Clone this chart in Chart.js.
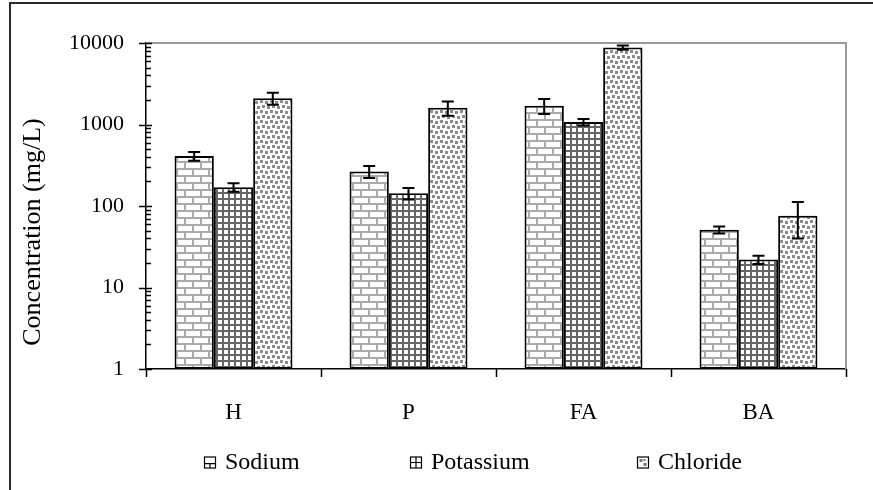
<!DOCTYPE html>
<html>
<head>
<meta charset="utf-8">
<script src="https://cdn.jsdelivr.net/npm/chart.js@4/dist/chart.umd.min.js"></script>
<style>
  html, body { margin: 0; padding: 0; background: #fff; overflow: hidden; }
  #wrap { position: relative; width: 873px; height: 490px; }
  #frame { position: absolute; left: 9px; top: 2px; width: 900px; height: 520px;
           border-left: 2px solid #2a2a2a; border-top: 2px solid #2a2a2a; pointer-events: none; }
  canvas { position: absolute; left: 0; top: 0; }
</style>
</head>
<body>
<div id="wrap">
  <canvas id="c" width="873" height="490"></canvas>
  <div id="frame"></div>
</div>
<script>
// Mean concentrations (mg/L) with standard deviations
const categories = ['H', 'P', 'FA', 'BA'];
const seriesNames = ['Sodium', 'Potassium', 'Chloride'];
const sodium = [410, 265, 1700, 51];
const potassium = [170, 143, 1070, 22];
const chloride = [2100, 1600, 8800, 76];
const sodiumErr = [50, 45, 350, 5];
const potassiumErr = [20, 23, 100, 2.6];
const chlorideErr = [350, 320, 550, 36];
const yTickValues = [1, 10, 100, 1000, 10000];
const yTitle = 'Concentration (mg/L)';

const FONT = '"Liberation Serif", "Times New Roman", serif';
const canvas = document.getElementById('c');
const ctxMain = canvas.getContext('2d');

// ---- fill patterns ----
function makeTile(w, h, draw) {
  const c = document.createElement('canvas');
  c.width = w; c.height = h;
  const g = c.getContext('2d');
  g.fillStyle = '#fff';
  g.fillRect(0, 0, w, h);
  draw(g);
  return c;
}
const brickPattern = ctxMain.createPattern(makeTile(16, 14, g => {
  g.fillStyle = '#aaaaaa';
  g.fillRect(0, 0, 16, 2);
  g.fillRect(0, 7, 16, 2);
  g.fillRect(0, 0, 2, 7);
  g.fillRect(8, 7, 2, 7);
}), 'repeat');
const gridPattern = ctxMain.createPattern(makeTile(6, 6, g => {
  g.fillStyle = '#666666';
  g.fillRect(0, 0, 6, 2);
  g.fillRect(0, 0, 2, 6);
}), 'repeat');
const dotPattern = ctxMain.createPattern(makeTile(10, 10, g => {
  g.fillStyle = '#8a8a8a';
  [[0, 0], [5, 1], [2, 5], [7, 6]].forEach(([x, y]) => g.fillRect(x, y, 3, 3));
}), 'repeat');

// ---- small legend glyphs ----
const legendGlyphs = [
  (g, x, y, s) => { // brick
    g.strokeStyle = '#000'; g.lineWidth = 1.2;
    g.strokeRect(x, y, s, s);
    g.beginPath(); g.moveTo(x, y + s * 0.6); g.lineTo(x + s, y + s * 0.6);
    g.moveTo(x + s * 0.5, y + s * 0.6); g.lineTo(x + s * 0.5, y + s); g.stroke();
  },
  (g, x, y, s) => { // grid
    g.strokeStyle = '#000'; g.lineWidth = 1.2;
    g.strokeRect(x, y, s, s);
    g.beginPath(); g.moveTo(x, y + s / 2); g.lineTo(x + s, y + s / 2);
    g.moveTo(x + s / 2, y); g.lineTo(x + s / 2, y + s); g.stroke();
  },
  (g, x, y, s) => { // dots
    g.strokeStyle = '#000'; g.lineWidth = 1.2;
    g.strokeRect(x, y, s, s);
    g.fillStyle = '#777';
    g.fillRect(x + 2, y + 2, 3, 3);
    g.fillRect(x + 6, y + 6, 3, 3);
    g.fillRect(x + 6, y + 2, 2, 2);
  }
];

// ---- plugins ----
const plotFrame = {
  id: 'plotFrame',
  beforeDatasetsDraw(chart) {
    const { ctx, chartArea: a } = chart;
    ctx.save();
    ctx.strokeStyle = '#9a9a9a';
    ctx.lineWidth = 2;
    ctx.beginPath();
    ctx.moveTo(a.left, a.top);
    ctx.lineTo(a.right, a.top);
    ctx.lineTo(a.right, a.bottom);
    ctx.stroke();
    ctx.restore();
  }
};

const errorBars = {
  id: 'errorBars',
  afterDatasetsDraw(chart) {
    const { ctx } = chart;
    const ys = chart.scales.y;
    ctx.save();
    ctx.strokeStyle = '#000';
    ctx.lineWidth = 2;
    chart.data.datasets.forEach((ds, i) => {
      const meta = chart.getDatasetMeta(i);
      meta.data.forEach((bar, j) => {
        const v = ds.data[j], e = ds.errors[j];
        const yT = ys.getPixelForValue(v + e);
        const yB = ys.getPixelForValue(v - e);
        const x = bar.x, cap = 6;
        ctx.beginPath();
        ctx.moveTo(x, yT); ctx.lineTo(x, yB);
        ctx.moveTo(x - cap, yT); ctx.lineTo(x + cap, yT);
        ctx.moveTo(x - cap, yB); ctx.lineTo(x + cap, yB);
        ctx.stroke();
      });
    });
    ctx.restore();
  }
};

const tickMarks = {
  id: 'tickMarks',
  afterDraw(chart) {
    const { ctx, chartArea: a } = chart;
    const ys = chart.scales.y, xs = chart.scales.x;
    ctx.save();
    ctx.strokeStyle = '#000';
    ctx.lineWidth = 1.5;
    ctx.beginPath();
    yTickValues.forEach(v => {
      const y = Math.round(ys.getPixelForValue(v)) + 0.5;
      ctx.moveTo(a.left - 7, y); ctx.lineTo(a.left + 6, y);
    });
    for (let d = 0; d < yTickValues.length - 1; d++) {
      for (let k = 2; k <= 9; k++) {
        const y = Math.round(ys.getPixelForValue(yTickValues[d] * k)) + 0.5;
        ctx.moveTo(a.left, y); ctx.lineTo(a.left + 5, y);
      }
    }
    const n = categories.length;
    for (let k = 0; k <= n; k++) {
      const x = Math.round(xs.left + k * (xs.right - xs.left) / n) + 0.5;
      ctx.moveTo(x, a.bottom); ctx.lineTo(x, a.bottom + 8);
    }
    ctx.stroke();
    ctx.restore();
  }
};

const axisTitle = {
  id: 'axisTitle',
  afterDraw(chart) {
    const { ctx } = chart;
    ctx.save();
    ctx.translate(33, 232);
    ctx.rotate(-Math.PI / 2);
    ctx.font = '26px ' + FONT;
    ctx.fillStyle = '#000';
    ctx.textAlign = 'center';
    ctx.textBaseline = 'middle';
    ctx.fillText(yTitle, 0, 0);
    ctx.restore();
  }
};

const legendRow = {
  id: 'legendRow',
  afterDraw(chart) {
    const { ctx } = chart;
    const starts = [204, 410, 637];
    const yc = 462, s = 11;
    ctx.save();
    ctx.font = '24px ' + FONT;
    ctx.textBaseline = 'middle';
    chart.data.datasets.forEach((ds, i) => {
      const x = starts[i];
      ctx.fillStyle = '#fff';
      ctx.fillRect(x, yc - s / 2, s, s);
      legendGlyphs[i](ctx, x + 0.5, yc - s / 2 + 0.5, s);
      ctx.fillStyle = '#000';
      ctx.fillText(ds.label, x + s + 10, yc + 1);
    });
    ctx.restore();
  }
};

const common = { borderColor: '#000', borderWidth: 2, borderSkipped: false,
                 categoryPercentage: 0.674, barPercentage: 1 };

new Chart(ctxMain, {
  type: 'bar',
  data: {
    labels: categories,
    datasets: [
      Object.assign({ label: seriesNames[0], data: sodium, errors: sodiumErr, backgroundColor: brickPattern }, common),
      Object.assign({ label: seriesNames[1], data: potassium, errors: potassiumErr, backgroundColor: gridPattern }, common),
      Object.assign({ label: seriesNames[2], data: chloride, errors: chlorideErr, backgroundColor: dotPattern }, common)
    ]
  },
  options: {
    responsive: false,
    animation: false,
    devicePixelRatio: 1,
    layout: { padding: { left: 0, top: 43, right: 27, bottom: 0 } },
    plugins: { legend: { display: false }, tooltip: { enabled: false } },
    scales: {
      x: {
        grid: { display: false, drawTicks: false },
        border: { display: true, color: '#000', width: 1.5 },
        ticks: { font: { family: FONT, size: 23 }, color: '#000', padding: 30, maxRotation: 0 },
        afterFit(s) { s.height = 121; }
      },
      y: {
        type: 'logarithmic',
        min: 1, max: 10000,
        grid: { display: false, drawTicks: false },
        border: { display: true, color: '#000', width: 1.5 },
        ticks: { font: { family: FONT, size: 22 }, color: '#000', padding: 22,
                 callback: v => String(v) },
        afterBuildTicks(s) { s.ticks = yTickValues.map(v => ({ value: v })); },
        afterFit(s) { s.width = 146; }
      }
    }
  },
  plugins: [plotFrame, errorBars, tickMarks, axisTitle, legendRow]
});
</script>
</body>
</html>
